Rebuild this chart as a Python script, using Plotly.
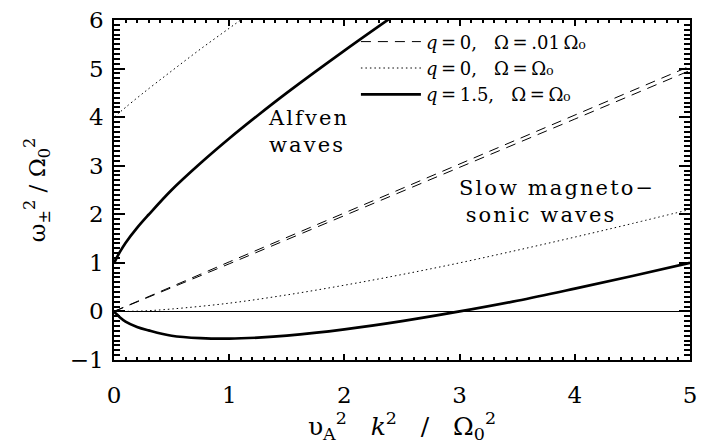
import plotly.graph_objects as go

# ---- data ----
# q=0, Omega=.01 Omega0 (dashed, two branches)
x_slow_rot = [0, 0.25, 0.5, 1.0, 2.0, 3.0, 4.0, 5.0]
up_slow_rot = [0, 0.26, 0.51, 1.02, 2.03, 3.03, 4.04, 5.05]
lo_slow_rot = [0, 0.24, 0.49, 0.98, 1.97, 2.97, 3.96, 4.96]

# q=0, Omega=Omega0 (dotted)
x_q0_up = [0, 0.05, 0.1, 0.25, 0.5, 0.75, 1.0, 1.1, 1.2]
y_q0_up = [4.0, 4.10, 4.20, 4.49, 4.95, 5.40, 5.83, 6.0, 6.17]
x_q0_lo = [0, 0.25, 0.5, 1.0, 1.5, 2.0, 2.5, 3.0, 3.5, 4.0, 4.5, 5.0]
y_q0_lo = [0, 0.01, 0.05, 0.17, 0.34, 0.54, 0.76, 1.0, 1.26, 1.53, 1.81, 2.10]

# q=1.5, Omega=Omega0 (thick solid)
x_q15_up = [0, 0.02, 0.05, 0.1, 0.2, 0.3, 0.5, 0.75, 1.0, 1.25, 1.5, 2.0, 2.4]
y_q15_up = [1.0, 1.09, 1.22, 1.41, 1.72, 1.99, 2.50, 3.05, 3.56, 4.04, 4.50, 5.37, 6.04]
x_q15_lo = [0, 0.02, 0.05, 0.1, 0.2, 0.3, 0.5, 0.75, 1.0, 1.25, 1.5, 2.0, 2.5, 3.0, 3.5, 4.0, 4.5, 5.0]
y_q15_lo = [0, -0.05, -0.12, -0.21, -0.32, -0.39, -0.50, -0.55, -0.56, -0.54, -0.50,
            -0.37, -0.20, 0.0, 0.22, 0.47, 0.73, 1.0]

labels = ["<i>q</i>\u2009=\u20090,   Ω\u2009=\u2009.01\u2009Ω\u2080",
          "<i>q</i>\u2009=\u20090,   Ω\u2009=\u2009Ω\u2080",
          "<i>q</i>\u2009=\u20091.5,   Ω\u2009=\u2009Ω\u2080"]

HS = "\u200a"  # hair space: the reference's type is loosely spaced


def spaced(s):
    return HS.join(s)


SERIF = "DejaVu Serif"

fig = go.Figure()
dash_line = dict(color="black", width=1, dash="10px,7px")
dot_line = dict(color="black", width=1, dash="1.5px,3px")
solid_line = dict(color="black", width=2.7)

fig.add_trace(go.Scatter(x=x_slow_rot, y=up_slow_rot, mode="lines", line=dash_line,
                         name=labels[0], legendrank=1))
fig.add_trace(go.Scatter(x=x_slow_rot, y=lo_slow_rot, mode="lines", line=dash_line,
                         showlegend=False))
fig.add_trace(go.Scatter(x=x_q0_up, y=y_q0_up, mode="lines", line=dot_line,
                         name=labels[1], legendrank=2, line_shape="spline"))
fig.add_trace(go.Scatter(x=x_q0_lo, y=y_q0_lo, mode="lines", line=dot_line,
                         showlegend=False, line_shape="spline"))
fig.add_trace(go.Scatter(x=x_q15_up, y=y_q15_up, mode="lines", line=solid_line,
                         name=labels[2], legendrank=3, line_shape="spline"))
fig.add_trace(go.Scatter(x=x_q15_lo, y=y_q15_lo, mode="lines", line=solid_line,
                         showlegend=False, line_shape="spline"))

tickfont = dict(family=SERIF, size=23, color="black")
TW = 1.8

fig.update_xaxes(range=[0, 5], showgrid=False, showline=True, linecolor="black",
                 linewidth=1.5, mirror="allticks", ticks="inside", ticklen=6,
                 tickwidth=TW, tickcolor="black", dtick=1, zeroline=False,
                 tickfont=tickfont, ticklabelstandoff=14,
                 minor=dict(dtick=0.1, ticks="inside", ticklen=3,
                            tickcolor="black", tickwidth=TW),
                 title=dict(text="υ<sub>A</sub><sup>2</sup>&nbsp;&nbsp;&nbsp;<i>k</i><sup>2</sup>&nbsp;&nbsp;&nbsp;/&nbsp;&nbsp;&nbsp;Ω<sub>0</sub><sup>2</sup>",
                            font=dict(family=SERIF, size=25, color="black"), standoff=4))
fig.update_yaxes(range=[-1, 6], showgrid=False, showline=True, linecolor="black",
                 linewidth=1.5, mirror="allticks", ticks="inside", ticklen=11,
                 tickwidth=TW, tickcolor="black", dtick=1,
                 ticklabeloverflow="allow", tickfont=tickfont, ticklabelstandoff=4,
                 minor=dict(dtick=0.1, ticks="inside", ticklen=6,
                            tickcolor="black", tickwidth=TW),
                 zeroline=True, zerolinecolor="black", zerolinewidth=1,
                 title=dict(text="ω<sub>±</sub><sup>2</sup> / Ω<sub>0</sub><sup>2</sup>",
                            font=dict(family=SERIF, size=23, color="black"), standoff=18))

text_font = dict(family=SERIF, size=21, color="black")
fig.add_annotation(x=1.32, y=3.70, xref="x", yref="y",
                   text=spaced("Alfven") + "<br>" + spaced("waves"), showarrow=False,
                   xanchor="left", yanchor="middle", align="left", font=text_font)
fig.add_annotation(x=2.98, y=2.26, xref="x", yref="y",
                   text=spaced("Slow magneto−") + "<br>&nbsp;" + spaced("sonic waves"),
                   showarrow=False, xanchor="left", yanchor="middle", align="left",
                   font=text_font)

fig.update_layout(
    width=704, height=445,
    margin=dict(l=114, r=9, t=7, b=85),
    paper_bgcolor="white", plot_bgcolor="white",
    showlegend=True,
    legend=dict(x=0.42, y=0.99, xanchor="left", yanchor="top",
                bgcolor="rgba(0,0,0,0)", itemwidth=60, tracegroupgap=0,
                font=dict(family=SERIF, size=18, color="black")),
)

fig.write_html("out.html")
